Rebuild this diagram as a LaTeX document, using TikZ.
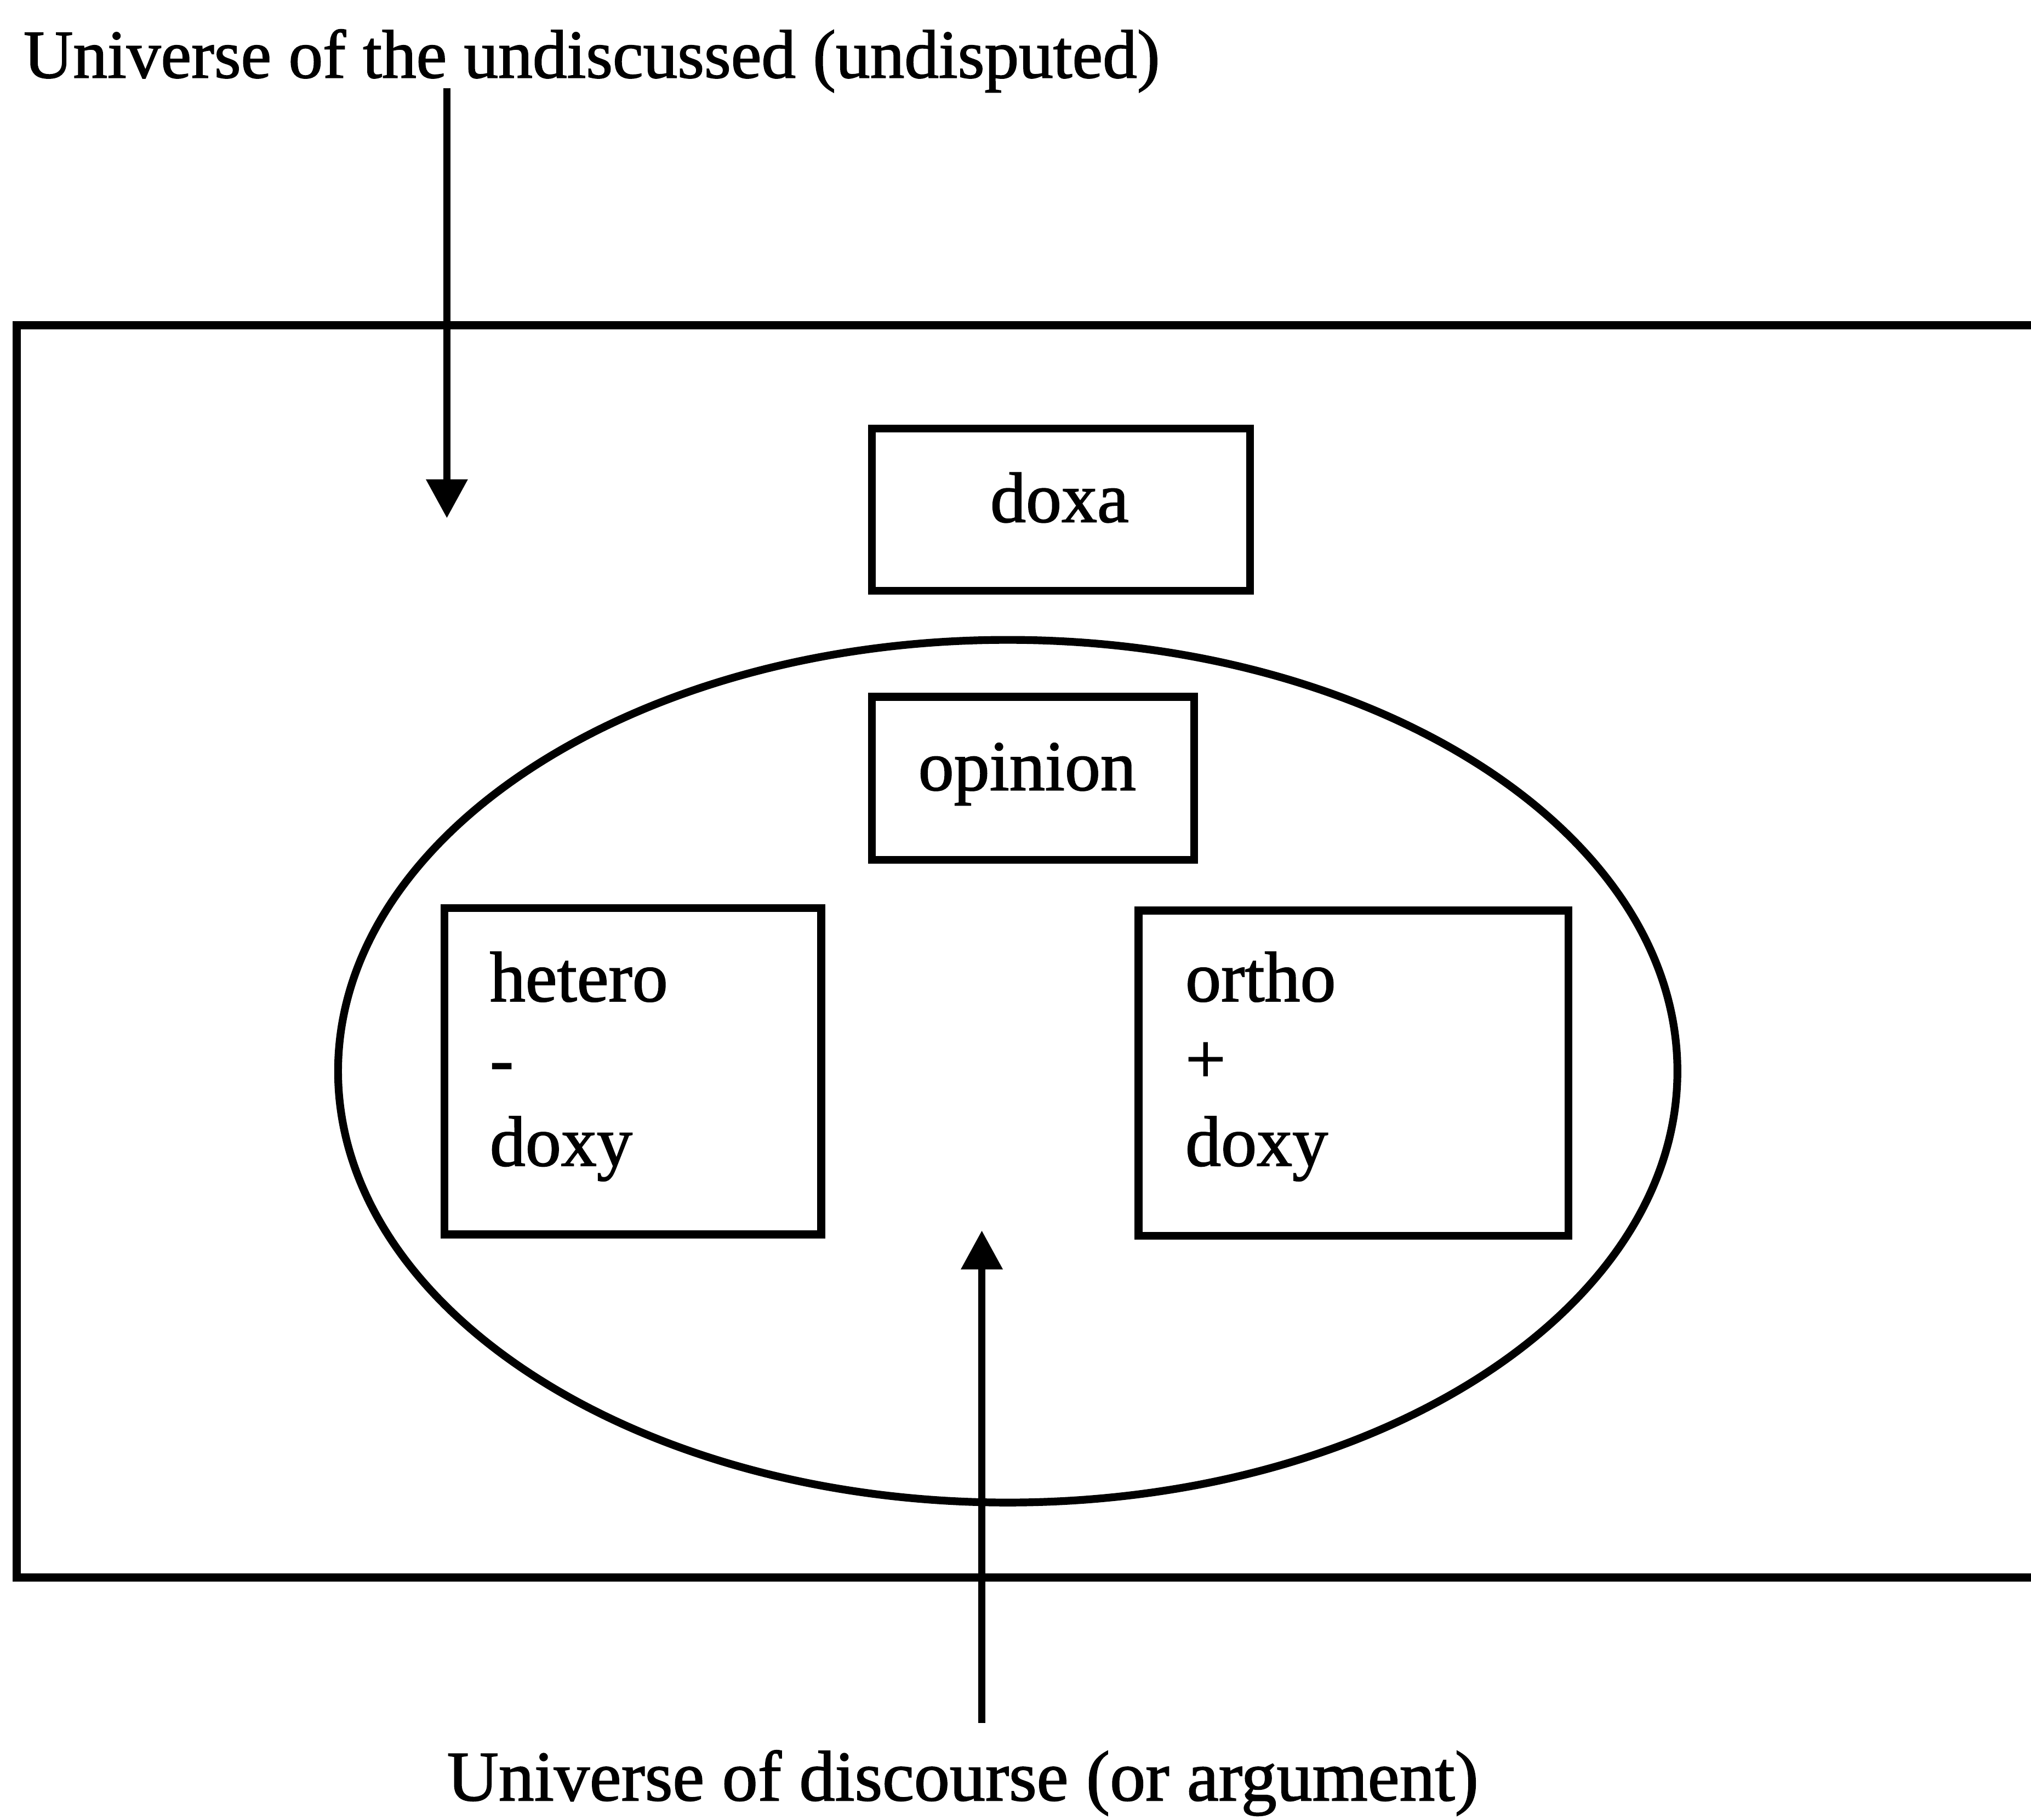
\documentclass[tikz,border=0pt]{standalone}
\usepackage{fontspec}
\setmainfont{Liberation Serif}[FakeBold=1.4]
\usetikzlibrary{arrows.meta,shapes.geometric}
\tikzset{
  caption/.style={inner sep=0pt, anchor=base west},
  word/.style={inner sep=0pt, anchor=base west, font=\fontsize{55}{63}\selectfont},
  termbox/.style={draw, line width=6pt, inner sep=0pt, outer sep=0pt},
  pointer/.style={line width=5.5pt, -{Triangle[width=31pt,length=30pt]}},
}
\begin{document}
\begin{tikzpicture}[x=1pt,y=-1pt]
\useasboundingbox (0,0) rectangle (1568,1405);
\clip (0,0) rectangle (1568,1405);

% universe of the undiscussed: frame left open on the right
\draw[line width=6.5pt] (1620,251) -- (13,251) -- (13,1218) -- (1620,1218);

% universe of discourse
\node[ellipse, draw, line width=6pt, minimum width=1034pt, minimum height=666pt,
      inner sep=0pt] (discourse) at (778,827) {};

% terms
\node[termbox, minimum width=292pt, minimum height=125pt] (doxa) at (819,393.5) {};
\node[word, anchor=base] (doxaText) at (818,403) {doxa};

\node[termbox, minimum width=249pt, minimum height=126pt] (opinion) at (797.5,601) {};
\node[word, anchor=base] (opinionText) at (793,610) {opinion};

\node[termbox, minimum width=291pt, minimum height=252pt] (hetero) at (488.5,827) {};
\node[word] (heteroA) at (378,773) {hetero};
\node[word] (heteroB) at (378,836) {-};
\node[word] (heteroC) at (378,900) {doxy};

\node[termbox, minimum width=332pt, minimum height=251pt] (ortho) at (1045,828.5) {};
\node[word] (orthoA) at (915,773) {ortho};
\node[word] (orthoB) at (915,836) {+};
\node[word] (orthoC) at (915,900) {doxy};

% captions
\node[caption, font=\fontsize{53}{60}\selectfont] (undiscussed) at (18,60)
  {Universe of the undiscussed (undisputed)};
\node[caption, font=\fontsize{55}{60}\selectfont] (argument) at (345,1390)
  {Universe of discourse (or argument)};

% pointers
\coordinate (undiscussedTail) at (345,68);
\coordinate (undiscussedTip) at (345,400);
\draw[pointer] (undiscussedTail) -- (undiscussedTip);

\coordinate (discourseTail) at (758,1330);
\coordinate (discourseTip) at (758,950);
\draw[pointer] (discourseTail) -- (discourseTip);
\end{tikzpicture}
\end{document}
